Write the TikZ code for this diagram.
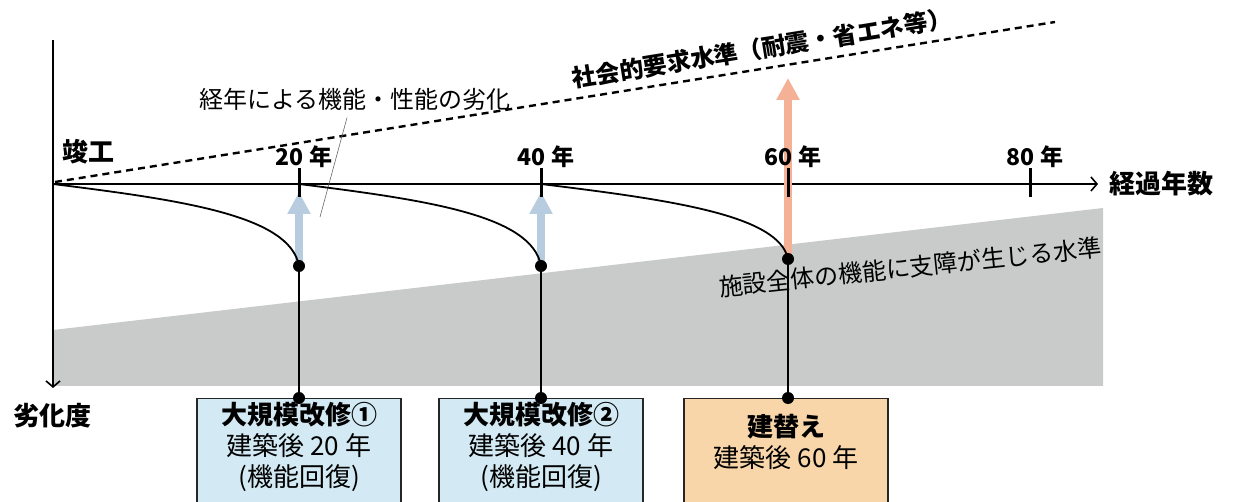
\documentclass[tikz,border=0pt]{standalone}
\usepackage{fontspec}
\setmainfont{Noto Sans CJK JP}
\usetikzlibrary{positioning,arrows.meta}

\definecolor{bandgray}{HTML}{C9CACA}
\definecolor{repairblue}{HTML}{D3EAF4}
\definecolor{rebuildorange}{HTML}{F9D6AA}
\definecolor{liftblue}{HTML}{B8CCE0}
\definecolor{liftorange}{HTML}{F4B196}

\tikzset{
  joint/.style={circle, fill=black, inner sep=0pt, minimum size=12pt},
  plan/.style={draw=black!85, line width=1.2pt, align=center, minimum width=204pt,
    inner sep=4pt, font=\fontsize{26}{31}\selectfont},
  lift/.style={line width=8pt, -{Triangle[width=22pt,length=22pt]}},
  yeartick/.style={line width=3pt},
  yearlabel/.style={font=\bfseries\fontsize{23}{25}\selectfont, inner sep=1pt},
  axislabel/.style={font=\bfseries\fontsize{26}{28}\selectfont},
  axis/.style={line width=1.6pt, -{Straight Barb[length=6pt,width=14pt]}},
}

\begin{document}
\begin{tikzpicture}[x=1pt, y=-1pt, font=\fontsize{24}{28}\selectfont]
    \useasboundingbox (0,0) rectangle (1234,502);
    % level where the building stops working
    \fill[bandgray] (53,330) -- (1103,208) -- (1103,386) -- (53,386) -- cycle;
    \node[rotate=6] (limit) at (910,267) {施設全体の機能に支障が生じる水準};

    % axes
    \coordinate (O) at (53,184);
    \coordinate (ytop) at (53,40);
    \coordinate (ybot) at (53,388);
    \coordinate (xend) at (1098,184);
    \draw[axis] (ytop) -- (ybot);
    \draw[axis] (O) -- (xend);
    \node[axislabel, right=8pt of xend] (xlabel) {経過年数};
    \node[axislabel] (ylabel) at (52,416) {劣化度};
    \node[axislabel] (start) at (88,152) {竣工};

    % required level
    \coordinate (req0) at (55,182);
    \coordinate (req1) at (1055,22);
    \draw[line width=2.4pt, dash pattern=on 7pt off 5pt] (req0) -- (req1)
      node[pos=0.71, sloped, above=4pt, font=\bfseries\fontsize{24}{28}\selectfont] (reqlabel) {社会的要求水準（耐震・省エネ等）};

    % aging note
    \node (aging) at (355,99) {経年による機能・性能の劣化};
    \coordinate (agingtip) at (320,217);
    \draw[black!60, line width=0.6pt] ([xshift=-8pt]aging.south) ++(0,4) -- (agingtip);

    % points reached before each work
    \coordinate (p20) at (299,266);
    \coordinate (p40) at (541,266);
    \coordinate (p60) at (788,259);
    \coordinate (h20) at (299,192);
    \coordinate (h40) at (541,192);
    \coordinate (h60) at (788,78);
    \draw[lift, liftblue] ([yshift=4pt]p20) -- (h20);
    \draw[lift, liftblue] ([yshift=4pt]p40) -- (h40);
    \draw[lift, liftorange] ([yshift=2pt]p60) -- (h60);

    % ticks
    \foreach \x/\yr in {299/20, 541/40, 788/60, 1030/80} {
      \coordinate (t\yr) at (\x,184);
      \draw[yeartick] ([yshift=16pt]t\yr) -- ([yshift=-13pt]t\yr);
      \node[yearlabel, above=15pt of t\yr, xshift=5pt] (l\yr) {\yr{} 年};
    }

    % deterioration curves
    \draw[line width=1.8pt] (O) .. controls +(127,16) and +(-9,-51) .. (p20);
    \draw[line width=1.8pt] (t20) .. controls +(127,16) and +(-9,-51) .. (p40);
    \draw[line width=1.8pt] (t40) .. controls +(130,16) and +(-9,-44) .. (p60);
    \node[joint] (d20) at (p20) {};
    \node[joint] (d40) at (p40) {};
    \node[joint] (d60) at (p60) {};

    % works
    \node[plan, fill=repairblue, anchor=north] (r20) at (299,398)
      {\textbf{大規模改修①}\\建築後 20 年\\(機能回復)\\ \mbox{}};
    \node[plan, fill=repairblue, anchor=north] (r40) at (541,398)
      {\textbf{大規模改修②}\\建築後 40 年\\(機能回復)\\ \mbox{}};
    \node[plan, fill=rebuildorange, anchor=north] (r60) at (786,398)
      {\rule{0pt}{34pt}\textbf{建替え}\\建築後 60 年\\ \mbox{}\\ \mbox{}};
    \node[joint] (b20) at (r20.north) {};
    \node[joint] (b40) at (r40.north) {};
    \node[joint] (b60) at ([xshift=2pt]r60.north) {};
    \draw[line width=2pt] (d20) -- (b20);
    \draw[line width=2pt] (d40) -- (b40);
    \draw[line width=2pt] (d60) -- (b60);
\end{tikzpicture}
\end{document}
